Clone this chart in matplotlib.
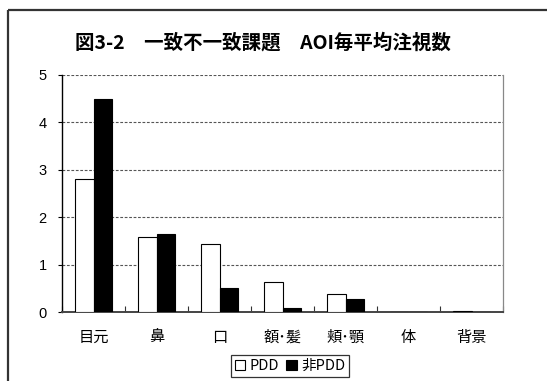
import matplotlib
matplotlib.use("Agg")
import matplotlib.pyplot as plt
import numpy as np
from matplotlib.lines import Line2D

plt.rcParams['font.family'] = ['Noto Sans CJK JP', 'DejaVu Sans']

categories = ['目元', '鼻', '口', '額･髪', '頬･顎', '体', '背景']
pdd = [2.80, 1.58, 1.43, 0.63, 0.37, 0.00, 0.02]
non_pdd = [4.49, 1.65, 0.51, 0.09, 0.27, 0.00, 0.00]
series_names = ['PDD', '非PDD']
yticks = [0, 1, 2, 3, 4, 5]
title = '図3-2　一致不一致課題　AOI毎平均注視数'

W, H = 547, 381
fig = plt.figure(figsize=(W / 100, H / 100), dpi=100)
fig.patch.set_facecolor('white')

# outer frame (left and top edges only)
fx, fy = 8 / W, 1 - 10 / H
fig.add_artist(Line2D([fx, fx], [0, fy], transform=fig.transFigure,
                      color='#333333', lw=1.6, solid_capstyle='butt'))
fig.add_artist(Line2D([fx, 1], [fy, fy], transform=fig.transFigure,
                      color='#333333', lw=1.6, solid_capstyle='butt'))

ax = fig.add_axes([62 / W, 1 - 312 / H, (503 - 62) / W, (312 - 75) / H])
x = np.arange(len(categories))
bw = 0.3
ax.bar(x - bw / 2, pdd, bw, color='white', edgecolor='black', lw=0.8, zorder=3)
ax.bar(x + bw / 2, non_pdd, bw, color='black', edgecolor='black', lw=0.8, zorder=3)

ax.set_xlim(-0.5, len(categories) - 0.5)
ax.set_ylim(0, 5)
ax.set_yticks(yticks)
ax.set_yticklabels([str(v) for v in yticks], fontsize=10.5,
                   family=['Liberation Sans', 'DejaVu Sans'])
ax.tick_params(axis='y', direction='out', length=3, width=0.8, pad=8)

ax.set_xticks(x)
ax.set_xticklabels(categories, fontsize=11)
ax.tick_params(axis='x', which='major', length=0, pad=12)
ax.set_xticks(np.arange(-0.5, len(categories), 1), minor=True)
ax.tick_params(axis='x', which='minor', direction='in', length=4, width=0.8,
               color='#333333')

for v in yticks[1:]:
    ax.axhline(v, color='#555555', lw=0.8, ls=(0, (2.5, 1.5)), zorder=1)

ax.spines['top'].set_visible(False)
ax.spines['right'].set_color('#888888')
ax.spines['right'].set_linewidth(0.9)
ax.spines['left'].set_color('black')
ax.spines['left'].set_linewidth(1.0)
ax.spines['bottom'].set_color('#444444')
ax.spines['bottom'].set_linewidth(1.4)

fig.text(263 / W, 1 - 43 / H, title, ha='center', va='center',
         fontsize=14, fontweight='bold')

handles = [plt.Rectangle((0, 0), 1, 1, facecolor='white', edgecolor='black', lw=0.8),
           plt.Rectangle((0, 0), 1, 1, facecolor='black', edgecolor='black', lw=0.8)]
leg = fig.legend(handles, series_names, loc='center',
                 bbox_to_anchor=(290 / W, 1 - 366 / H), ncol=2, fontsize=10.5,
                 frameon=True, fancybox=False, handlelength=0.7,
                 handleheight=0.7, handletextpad=0.3, columnspacing=0.5,
                 borderpad=0.25, borderaxespad=0)
leg.get_frame().set_edgecolor('black')
leg.get_frame().set_linewidth(0.9)

fig.savefig('out.png', dpi=100, facecolor='white')
